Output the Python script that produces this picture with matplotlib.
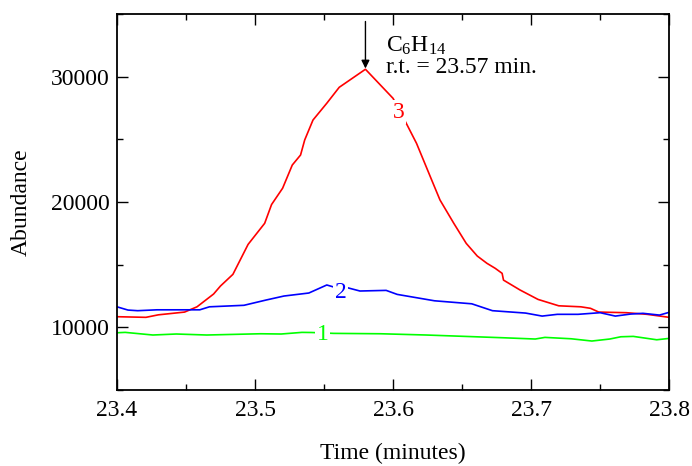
import matplotlib
matplotlib.use('Agg')

import matplotlib.pyplot as plt
from matplotlib.ticker import MultipleLocator

plt.rcParams['font.family'] = ['Liberation Serif', 'DejaVu Serif']
plt.rcParams['mathtext.fontset'] = 'custom'
plt.rcParams['mathtext.rm'] = 'Liberation Serif'

# series 3 (red)
t3 = [23.400, 23.421, 23.430, 23.449, 23.458, 23.470, 23.475, 23.484, 23.495,
      23.507, 23.512, 23.520, 23.527, 23.533, 23.536, 23.542, 23.552, 23.561,
      23.580, 23.600, 23.609, 23.617, 23.628, 23.634, 23.644, 23.653, 23.661,
      23.668, 23.674, 23.679, 23.680, 23.692, 23.705, 23.720, 23.736, 23.743,
      23.749, 23.769, 23.784, 23.800]
a3 = [10850, 10800, 11000, 11220, 11640, 12660, 13300, 14230, 16620,
      18300, 19800, 21100, 22950, 23750, 24950, 26540, 27880, 29150,
      30590, 28270, 26400, 24680, 21750, 20160, 18300, 16700, 15690,
      15110, 14710, 14310, 13770, 12980, 12230, 11720, 11640, 11520,
      11220, 11170, 11040, 10800]

# series 2 (blue)
t2 = [23.400, 23.408, 23.415, 23.429, 23.460, 23.467, 23.492, 23.508, 23.521,
      23.539, 23.552, 23.557, 23.566, 23.576, 23.595, 23.603, 23.630, 23.657,
      23.672, 23.696, 23.708, 23.719, 23.734, 23.750, 23.761, 23.772, 23.781,
      23.793, 23.800]
a2 = [11640, 11380, 11330, 11400, 11400, 11640, 11760, 12180, 12500,
      12740, 13380, 13220, 13190, 12900, 12950, 12630, 12120, 11880,
      11330, 11140, 10900, 11040, 11040, 11170, 10900, 11060, 11120,
      10980, 11200]

# series 1 (green)
t1 = [23.400, 23.406, 23.426, 23.443, 23.465, 23.504, 23.519, 23.534, 23.541,
      23.557, 23.591, 23.624, 23.680, 23.703, 23.710, 23.729, 23.744, 23.757,
      23.765, 23.774, 23.791, 23.800]
a1 = [9570, 9600, 9390, 9470, 9390, 9490, 9470, 9600, 9590,
      9520, 9490, 9390, 9170, 9070, 9200, 9090, 8910, 9070,
      9250, 9280, 9010, 9120]

fig = plt.figure(figsize=(6.92, 4.66), dpi=100)
ax = fig.add_axes([0.169, 0.163, 0.798, 0.807])

ax.plot(t3, a3, color='#ff0000', lw=1.2)
ax.plot(t2, a2, color='#0000ff', lw=1.2)
ax.plot(t1, a1, color='#00ff00', lw=1.2)

# curve numbers, white box breaks the line
box = dict(facecolor='white', edgecolor='none', pad=1)
ax.text(23.604, 27180, '3', color='#ff0000', fontsize=17, ha='center', va='center', bbox=box)
ax.text(23.562, 12780, '2', color='#0000ff', fontsize=17, ha='center', va='center', bbox=box)
ax.text(23.549, 9430, '1', color='#00ff00', fontsize=17, ha='center', va='center', bbox=box)

# peak marker
ax.annotate('', xy=(23.580, 30650), xytext=(23.580, 34400),
            arrowprops=dict(arrowstyle='-|>', color='black', lw=1.0,
                            mutation_scale=12, shrinkA=0, shrinkB=0))
ax.text(23.595, 32000, r'C$\mathregular{_6}$H$\mathregular{_{14}}$', fontsize=17, ha='left', va='baseline')
ax.text(23.595, 30320, 'r.t. = 23.57 min.', fontsize=17, ha='left', va='baseline')

ax.set_xlim(23.4, 23.8)
ax.set_ylim(5000, 35000)
ax.xaxis.set_major_locator(MultipleLocator(0.1))
ax.xaxis.set_minor_locator(MultipleLocator(0.05))
ax.yaxis.set_major_locator(MultipleLocator(10000))
ax.yaxis.set_minor_locator(MultipleLocator(5000))
ax.tick_params(which='both', direction='in', top=True, right=True, labelsize=17, width=1.0)
ax.tick_params(which='major', length=8)
ax.tick_params(which='minor', length=4.5)
ax.tick_params(axis='x', pad=7)
ax.tick_params(axis='y', pad=5)
for s in ax.spines.values():
    s.set_linewidth(1.3)

ax.set_xlabel('Time (minutes)', fontsize=17, labelpad=16)
ax.set_ylabel('Abundance', fontsize=17, labelpad=14)

plt.savefig('out.png', dpi=100)
